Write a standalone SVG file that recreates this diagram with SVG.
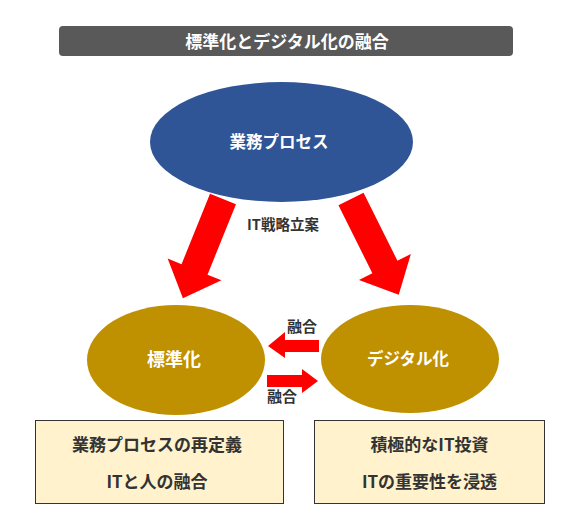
<svg xmlns="http://www.w3.org/2000/svg" width="574" height="514" viewBox="0 0 574 514">
<style>
text{font-family:"Noto Sans CJK JP","Noto Sans",sans-serif;font-weight:bold;text-anchor:middle}
.w{fill:#fff}
.d{fill:#333}
.arrow{fill:#ff0000}
.gold{fill:#bf9000}
.box{fill:#fff2cc;stroke:#333;stroke-width:1}
</style>
<defs>
<polygon id="bigArrow" points="-14,0 14,0 14,76 29,76 0,107 -29,76 -14,76"/>
</defs>
<rect width="574" height="514" fill="#fff"/>
<g id="title">
<rect x="59" y="26" width="454" height="30" rx="4" fill="#595959"/>
<text class="w" x="287" y="47.5" font-size="17">標準化とデジタル化の融合</text>
</g>
<g id="process">
<ellipse cx="281.5" cy="142" rx="131.5" ry="60" fill="#2f5597"/>
<text class="w" x="279" y="148" font-size="16.5">業務プロセス</text>
</g>
<g id="standard">
<ellipse class="gold" cx="176" cy="360" rx="89" ry="55"/>
<text class="w" x="174" y="366" font-size="18">標準化</text>
</g>
<g id="digital">
<ellipse class="gold" cx="410" cy="359" rx="89" ry="54"/>
<text class="w" x="408" y="365" font-size="16.5">デジタル化</text>
</g>
<g id="connectors">
<use href="#bigArrow" class="arrow" transform="translate(223,199) rotate(22)"/>
<use href="#bigArrow" class="arrow" transform="translate(351,199) rotate(-26.5)"/>
<polygon class="arrow" points="319,340 285,340 285,332 268,346 285,358 285,352 319,352"/>
<polygon class="arrow" points="267,375 302,375 302,369 318,381 302,393 302,387 267,387"/>
<text class="d" x="283" y="230" font-size="14.5">IT戦略立案</text>
<text class="d" x="302" y="332" font-size="15">融合</text>
<text class="d" x="282" y="402" font-size="15">融合</text>
</g>
<g id="box-left">
<rect class="box" x="35.5" y="420.5" width="248" height="83"/>
<text class="d" x="157" y="451" font-size="17">業務プロセスの再定義</text>
<text class="d" x="157" y="488" font-size="17">ITと人の融合</text>
</g>
<g id="box-right">
<rect class="box" x="314.5" y="420.5" width="230" height="83"/>
<text class="d" x="429.5" y="451" font-size="17">積極的なIT投資</text>
<text class="d" x="429.5" y="488" font-size="17">ITの重要性を浸透</text>
</g>
</svg>
